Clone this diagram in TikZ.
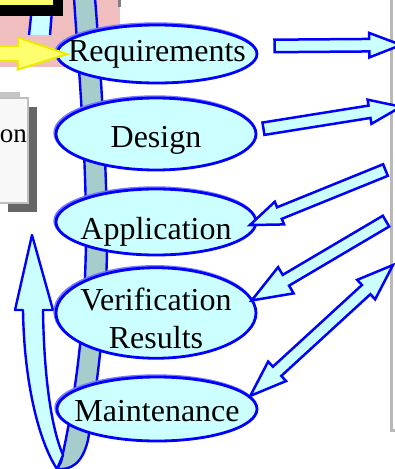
\documentclass[tikz,border=0pt]{standalone}
\usepackage{fontspec}
\setmainfont{Liberation Serif}
\usetikzlibrary{arrows.meta, positioning, shapes.geometric, shapes.arrows, calc}

\definecolor{paleblue}{RGB}{204,255,255}
\definecolor{ribbonteal}{RGB}{166,204,204}
\definecolor{slidepink}{RGB}{240,190,190}
\definecolor{boxgray}{RGB}{248,248,248}
\definecolor{shadowgray}{RGB}{102,102,102}
\definecolor{panelgray}{RGB}{185,185,185}
\definecolor{hiyellow}{RGB}{255,255,110}
\definecolor{edgeyellow}{RGB}{235,235,0}
\definecolor{glowblue}{RGB}{120,120,255}

% block arrow from #2 (tail) to #3 (tip)
\newcommand{\blockarrow}[3][flow]{%
  \path let \p1=(#2), \p2=(#3), \n1={atan2(\y2-\y1,\x2-\x1)}, \n2={veclen(\x2-\x1,\y2-\y1)}
    in node[#1, minimum height=\n2, rotate=\n1] at ($(\p1)!0.5!(\p2)$) {};%
}

\begin{document}
\begin{tikzpicture}[x=1pt, y=-1pt,
  stage/.style={ellipse, draw=blue, fill=paleblue, line width=2.8pt, minimum width=200pt,
    inner xsep=-20pt, inner ysep=-10pt, align=center, font=\fontsize{32}{38}\selectfont,
    preaction={draw=glowblue, line width=3pt, transform canvas={shift={(-1.2pt,1.2pt)}}}},
  flow/.style={single arrow, draw=blue, fill=paleblue, line width=2.5pt, inner xsep=0pt,
    inner ysep=5pt, single arrow head extend=6pt, single arrow tip angle=42, outer sep=0pt},
  both/.style={double arrow, draw=blue, fill=paleblue, line width=2.5pt, inner xsep=0pt,
    inner ysep=5pt, double arrow head extend=7pt, double arrow tip angle=40, outer sep=0pt},
  hint/.style={single arrow, draw=edgeyellow, fill=hiyellow, line width=2pt, inner xsep=0pt,
    inner ysep=6.5pt, single arrow head extend=8.5pt, single arrow tip angle=36, outer sep=0pt},
  band/.style={draw=blue, line width=2.4pt, line join=round}
]
\useasboundingbox (0,0) rectangle (395,469);
\clip (0,0) rectangle (395,469);

% slide background pieces
\fill[slidepink] (0,0) rectangle (120,67);
\fill[gray] (118,0) rectangle (121,7);
\fill[paleblue] (33,-2) -- (29,35) -- (50,35) -- (53,-2) -- cycle;
\draw[band] (33,-2) -- (29,35) (53,-2) -- (50,35);
\fill[black] (-10,-10) rectangle (63,16);
\fill[hiyellow] (-10,-10) rectangle (53,5);
\fill[shadowgray] (8,107) rectangle (37,212);
\fill[gray!45] (-10,92) rectangle (20,98);
\filldraw[fill=boxgray, draw=gray!50, line width=1.5pt] (-10,98) rectangle (28,203);
\node[anchor=base east, font=\fontsize{27}{32}\selectfont, inner sep=0pt] (impl) at (27,142) {on};
\draw[panelgray, line width=3pt] (391,-2) -- (391,430) -- (400,430);

% ribbon behind the stages
\filldraw[band, fill=ribbonteal] (74,-2) .. controls (78,60) and (86,150) .. (86,230)
  .. controls (86,320) and (75,400) .. (61,462) -- (57,469)
  .. controls (70,470) and (82,465) .. (88,440)
  .. controls (98,380) and (108,300) .. (107,230)
  .. controls (106,150) and (100,60) .. (95,-2) -- cycle;
\filldraw[band, fill=paleblue] (57,469) .. controls (38,440) and (24,380) .. (23,310)
  -- (15,310) -- (32,235) -- (53,310) -- (43,310)
  .. controls (44,380) and (52,430) .. (63,455) -- cycle;

% stages
\node[stage, minimum height=58pt] (req) at (157,54) {Requirements};
\node[stage, minimum height=72pt, text height=33pt] (des) at (156,134) {Design};
\node[stage, minimum height=66pt, text height=41pt] (app) at (156,222) {Application};
\node[stage, minimum height=66pt, text height=77pt, text depth=7pt] (ver) at (156,313) {Verification\\Results};
\node[stage, minimum height=64pt, text height=25pt] (mnt) at (157,409) {Maintenance};

\coordinate (ytail) at (-40,53);
\coordinate (p1) at (393,45);
\coordinate (p2) at (393,108);
\coordinate (p3) at (393,167);
\coordinate (p4) at (393,217);
\coordinate (p5) at (393,265);

\blockarrow[hint]{ytail}{req.west}
\blockarrow{[shift={(8pt,8pt)}]req.east}{p1}
\blockarrow{[shift={(-2pt,4pt)}]des.east}{p2}
\blockarrow{p3}{app.east}
\blockarrow[flow, single arrow head extend=9pt]{p4}{[xshift=8pt]ver.10}
\blockarrow[both]{mnt.8}{p5}
\end{tikzpicture}
\end{document}
